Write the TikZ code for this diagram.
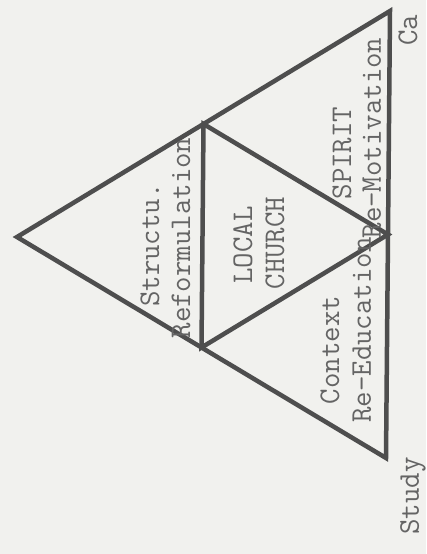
\documentclass[tikz,border=0pt]{standalone}
\usepackage{fontspec}
\usetikzlibrary{calc}
\definecolor{paper}{RGB}{241,241,238}
\definecolor{ink}{RGB}{78,78,78}
\definecolor{typeink}{RGB}{100,100,100}
\begin{document}
\begin{tikzpicture}[x=1pt,y=-1pt,
  edge/.style={draw=ink,line width=4.5pt,line join=miter},
  lbl/.style={text=typeink,font=\fontsize{30}{32}\selectfont\ttfamily,rotate=90,inner sep=0pt}]
\fill[paper] (0,0) rectangle (426,554);
\useasboundingbox (0,0) rectangle (426,554);
% outer vertices
\coordinate (A) at (17,237);
\coordinate (B) at (390,11);
\coordinate (C) at (386,458);
% inner vertices (midpoints)
\coordinate (AB) at ($(A)!0.5!(B)$);
\coordinate (AC) at ($(A)!0.5!(C)$);
\coordinate (BC) at ($(B)!0.5!(C)$);
\draw[edge] (A) -- (B) -- (C) -- cycle;
\draw[edge] (AB) -- (AC) -- (BC) -- cycle;
% labels
\node[lbl] (s1) at (150,245) {Structu.};
\node[lbl] (s2) at (181,238) {Reformulation};
\node[lbl] (l1) at (243,245) {LOCAL};
\node[lbl] (l2) at (275,243) {CHURCH};
\node[lbl] (c1) at (330,350) {Context};
\node[lbl] (c2) at (362,330) {Re-Education};
\node[lbl] (p1) at (342,153) {SPIRIT};
\node[lbl] (p2) at (372,138) {Re-Motivation};
\node[lbl] (st) at (413,496) {Study};
\node[lbl] (ca) at (408,30) {Ca};
\end{tikzpicture}
\end{document}
